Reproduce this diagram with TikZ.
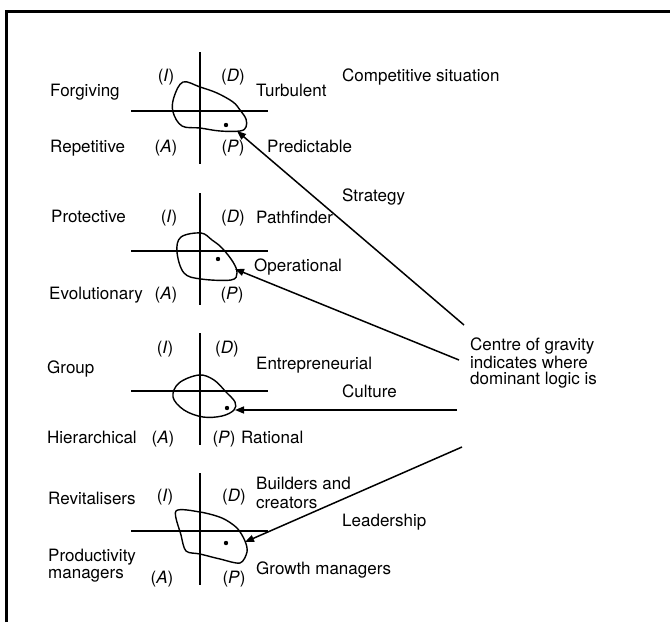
\documentclass[tikz,border=0pt]{standalone}
\usepackage{fontspec}
\setmainfont{TeX Gyre Heros}
\usetikzlibrary{arrows.meta}
\tikzset{
	lbl/.style={anchor=base west,inner sep=0pt,font=\fontsize{17}{16}\selectfont},
	quad/.style={anchor=base,inner sep=0pt,font=\fontsize{17}{16}\selectfont},
	axis/.style={line width=2pt},
	blob/.style={line width=1.4pt,line join=round},
	pointer/.style={line width=1.5pt,-{Triangle[length=9pt,width=7pt]}},
}

\begin{document}
\begin{tikzpicture}[x=1pt,y=-1pt]
		\useasboundingbox (0,0) rectangle (670,622);
		\draw [line width=3pt] (6,622) -- (6,11) -- (670,11);

		\foreach \t/\h in {52/111,193/251,333/391,473/531}{
			\draw [axis] (200,\t) -- (200,{\t+112});
			\draw [axis] (131,\h) -- (268,\h);
		}

		\draw [blob] plot [smooth cycle,tension=0.6] coordinates {(183,82) (200,87) (217,93) (233,102) (240,110) (246,119) (246,127) (240,131) (220,131) (200,128) (182,126) (173,112) (174,97)};
		\draw [blob] plot [smooth cycle,tension=0.6] coordinates {(201,233) (212,240) (222,248) (233,262) (237,273) (231,280) (201,279) (184,273) (177,252) (181,237)};
		\draw [blob] plot [smooth cycle,tension=0.6] coordinates {(199,375) (214,380) (226,392) (235,402) (234,410) (222,416) (203,417) (184,410) (173,397) (179,383)};
		\draw [blob] plot [smooth cycle,tension=0.5] coordinates {(176,511) (200,512) (222,518) (237,528) (245,541) (247,552) (240,563) (220,559) (200,554) (186,551) (181,535)};

		\fill (226,125) circle (2.2pt);
		\fill (218,259) circle (2.2pt);
		\fill (227,408) circle (2.2pt);
		\fill (226,543) circle (2.2pt);

		\node [quad] (i1) at (166,81) {(\textit{I})};
		\node [quad] (d1) at (233,81) {(\textit{D})};
		\node [quad] (a1) at (166,152) {(\textit{A})};
		\node [quad] (p1) at (233,152) {(\textit{P})};
		\node [lbl] (forgiving) at (50,96) {Forgiving};
		\node [lbl] (turbulent) at (256,96) {Turbulent};
		\node [lbl] (competitive) at (342,81) {Competitive situation};
		\node [lbl] (repetitive) at (50,152) {Repetitive};
		\node [lbl] (predictable) at (267,152) {Predictable};

		\node [quad] (i2) at (169,222) {(\textit{I})};
		\node [quad] (d2) at (233,222) {(\textit{D})};
		\node [quad] (a2) at (166,299) {(\textit{A})};
		\node [quad] (p2) at (232,299) {(\textit{P})};
		\node [lbl] (protective) at (51,222) {Protective};
		\node [lbl] (pathfinder) at (256,223) {Pathfinder};
		\node [lbl] (strategy) at (342,201) {Strategy};
		\node [lbl] (operational) at (254,271) {Operational};
		\node [lbl] (evolutionary) at (49,299) {Evolutionary};

		\node [quad] (i3) at (165,353) {(\textit{I})};
		\node [quad] (d3) at (227,353) {(\textit{D})};
		\node [quad] (a3) at (163,443) {(\textit{A})};
		\node [quad] (p3) at (224,443) {(\textit{P})};
		\node [lbl] (group) at (47,373) {Group};
		\node [lbl] (entrepreneurial) at (256,369) {Entrepreneurial};
		\node [lbl] (culture) at (342,397) {Culture};
		\node [lbl] (hierarchical) at (47,443) {Hierarchical};
		\node [lbl] (rational) at (241,443) {Rational};

		\node [quad] (i4) at (165,501) {(\textit{I})};
		\node [quad] (d4) at (234,501) {(\textit{D})};
		\node [quad] (a4) at (162,583) {(\textit{A})};
		\node [quad] (p4) at (234,583) {(\textit{P})};
		\node [lbl] (revitalisers) at (48,504) {Revitalisers};
		\node [lbl] (builders) at (256,489) {Builders and};
		\node [lbl] (creators) at (256,508) {creators};
		\node [lbl] (leadership) at (342,526) {Leadership};
		\node [lbl] (productivity) at (48,561) {Productivity};
		\node [lbl] (managers) at (48,578) {managers};
		\node [lbl] (growth) at (256,574) {Growth managers};

		\node [lbl,align=left] (gravity) at (470,384) {Centre of gravity\\indicates where\\dominant logic is};

		\coordinate (strat-s) at (464,325);
		\coordinate (strat-e) at (237,131);
		\coordinate (oper-s) at (459,360);
		\coordinate (oper-e) at (235,269);
		\coordinate (cult-s) at (457,410);
		\coordinate (cult-e) at (235,410);
		\coordinate (lead-s) at (462,447);
		\coordinate (lead-e) at (245,542);
		\draw [pointer] (strat-s) -- (strat-e);
		\draw [pointer] (oper-s) -- (oper-e);
		\draw [pointer] (cult-s) -- (cult-e);
		\draw [pointer] (lead-s) -- (lead-e);
	\end{tikzpicture}
\end{document}
